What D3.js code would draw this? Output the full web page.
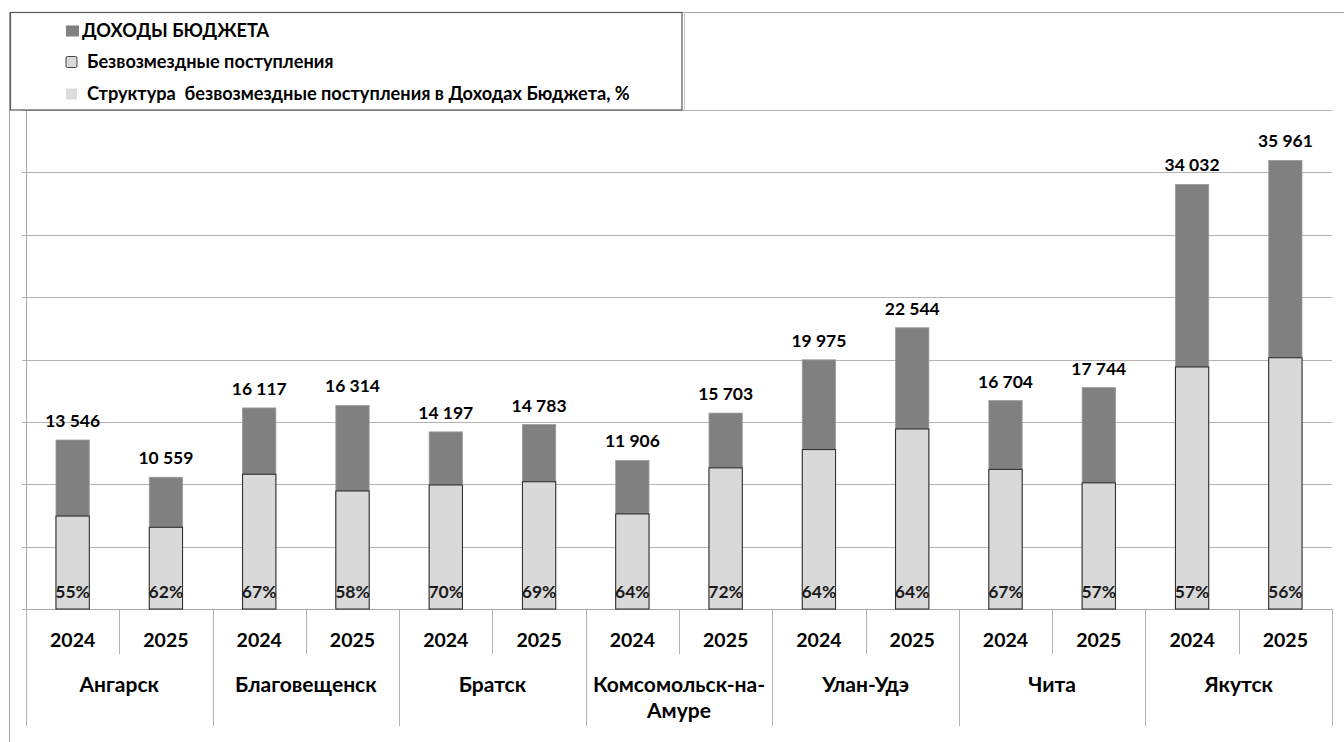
<!DOCTYPE html>
<html>
<head>
<meta charset="utf-8">
<script src="https://cdn.jsdelivr.net/npm/d3@7"></script>
<style>
  html, body { margin: 0; padding: 0; background: #fff; }
  svg { display: block; font-family: "Lato", "Open Sans", sans-serif; font-weight: bold; }
  text { white-space: pre; }
</style>
</head>
<body>
<svg id="chart" width="1344" height="742"></svg>
<script>
// ---- data ----
const cities = ["Ангарск", "Благовещенск", "Братск", "Комсомольск-на-Амуре", "Улан-Удэ", "Чита", "Якутск"];
const cityLines = [["Ангарск"], ["Благовещенск"], ["Братск"], ["Комсомольск-на-", "Амуре"], ["Улан-Удэ"], ["Чита"], ["Якутск"]];
const years = ["2024", "2025"];
const budgetIncome = [13546, 10559, 16117, 16314, 14197, 14783, 11906, 15703, 19975, 22544, 16704, 17744, 34032, 35961];
const grants = [7450, 6550, 10800, 9460, 9940, 10200, 7620, 11310, 12780, 14430, 11190, 10110, 19400, 20140];
const sharePct = [55, 62, 67, 58, 70, 69, 64, 72, 64, 64, 67, 57, 57, 56];
const legendLabels = ["ДОХОДЫ БЮДЖЕТА", "Безвозмездные поступления", "Структура  безвозмездные поступления в Доходах Бюджета, %"];
const yTicks = [0, 5000, 10000, 15000, 20000, 25000, 30000, 35000, 40000];

(function () {
const rows = [];
cities.forEach((c, ci) => years.forEach((yr, yi) => {
  const i = ci * 2 + yi;
  rows.push({ key: c + "|" + yr, city: c, year: yr, total: budgetIncome[i], grant: grants[i], pct: sharePct[i] });
}));

const svg = d3.select("#chart");
const pLeft = 26, pRight = 1332, pTop = 110, pBase = 609;

const x = d3.scaleBand().domain(rows.map(d => d.key)).range([pLeft, pRight]).padding(0);
const y = d3.scaleLinear().domain([0, 40000]).range([pBase, pTop]);
const bw = x.bandwidth() * 0.357;

const fmt = d3.formatLocale({ decimal: ",", thousands: " ", grouping: [3], currency: ["", ""] }).format(",d");

// font size fitting helper: size so that sample text has the target width
function fit(sample, target, base) {
  const t = svg.append("text").attr("font-size", base).text(sample);
  const w = t.node().getComputedTextLength();
  t.remove();
  return w > 0 ? base * target / w : base;
}
const fsYear = fit("2024", 45.3, 20);
const fsVal = fit("13 546", 55, 18);
const fsPct = fit("55%", 34.7, 18);
const fsCity = fit("Благовещенск", 141.7, 19);
const fsLeg = fit(legendLabels[2], 543, 17);

// outer chart border (clipped at page edges)
svg.append("line").attr("x1", 9.5).attr("x2", 9.5).attr("y1", 12).attr("y2", 742).attr("stroke", "#a6a6a6");
svg.append("line").attr("x1", 9).attr("x2", 1344).attr("y1", 12.5).attr("y2", 12.5).attr("stroke", "#a6a6a6");

// gridlines
svg.append("g").selectAll("line").data(yTicks).join("line")
  .attr("x1", pLeft - 4).attr("x2", pRight)
  .attr("y1", d => Math.round(y(d)) + 0.5).attr("y2", d => Math.round(y(d)) + 0.5)
  .attr("stroke", d => d === 0 ? "#a6a6a6" : "#b3b3b3");

// y axis line
svg.append("line").attr("x1", pLeft + 0.5).attr("x2", pLeft + 0.5).attr("y1", pTop).attr("y2", pBase)
  .attr("stroke", "#a6a6a6");

// category separators
svg.append("g").selectAll("line").data(d3.range(rows.length + 1)).join("line")
  .attr("x1", i => Math.round(pLeft + i * x.step()) + 0.5)
  .attr("x2", i => Math.round(pLeft + i * x.step()) + 0.5)
  .attr("y1", pBase)
  .attr("y2", i => (i % 2 === 0) ? 726 : 654)
  .attr("stroke", "#b3b3b3");

// bars: total (dark)
svg.append("g").selectAll("rect").data(rows).join("rect")
  .attr("x", d => x(d.key) + (x.bandwidth() - bw) / 2)
  .attr("width", bw)
  .attr("y", d => y(d.total))
  .attr("height", d => y(0) - y(d.total))
  .attr("fill", "#808080")
  .attr("stroke", "#9a9a9a").attr("stroke-width", 0.8);

// bars: grants (light, overlapping)
svg.append("g").selectAll("rect").data(rows).join("rect")
  .attr("x", d => x(d.key) + (x.bandwidth() - bw) / 2)
  .attr("width", bw)
  .attr("y", d => y(d.grant))
  .attr("height", d => y(0) - y(d.grant))
  .attr("fill", "#d9d9d9")
  .attr("stroke", "#262626").attr("stroke-width", 1);

// value labels
svg.append("g").selectAll("text").data(rows).join("text")
  .attr("x", d => x(d.key) + x.bandwidth() / 2)
  .attr("y", d => y(d.total) - 13)
  .attr("text-anchor", "middle")
  .attr("font-size", fsVal).attr("fill", "#000")
  .text(d => fmt(d.total));

// percent labels
svg.append("g").selectAll("text").data(rows).join("text")
  .attr("x", d => x(d.key) + x.bandwidth() / 2)
  .attr("y", 597.5)
  .attr("text-anchor", "middle")
  .attr("font-size", fsPct).attr("fill", "#1a1a1a")
  .text(d => d.pct + "%");

// year labels
svg.append("g").selectAll("text").data(rows).join("text")
  .attr("x", d => x(d.key) + x.bandwidth() / 2)
  .attr("y", 647)
  .attr("text-anchor", "middle")
  .attr("font-size", fsYear).attr("fill", "#000")
  .text(d => d.year);

// city labels
const cg = svg.append("g").selectAll("text").data(cities).join("text")
  .attr("x", (c, ci) => pLeft + (ci * 2 + 1) * x.step())
  .attr("y", 692)
  .attr("text-anchor", "middle")
  .attr("font-size", fsCity).attr("fill", "#000");
cg.selectAll("tspan").data((c, ci) => cityLines[ci]).join("tspan")
  .attr("x", function () { return this.parentNode.getAttribute("x"); })
  .attr("dy", (d, i) => i === 0 ? 0 : 26)
  .text(d => d);

// legend
const lg = svg.append("g");
lg.append("rect").attr("x", 10.5).attr("y", 12.5).attr("width", 671.5).attr("height", 97.5)
  .attr("fill", "#fff").attr("stroke", "#595959").attr("stroke-width", 1.2);
lg.append("line").attr("x1", 684.5).attr("x2", 684.5).attr("y1", 12).attr("y2", 110).attr("stroke", "#c8c8c8");
const legendMarks = [
  { fill: "#808080", stroke: "none" },
  { fill: "#d9d9d9", stroke: "#404040" },
  { fill: "#dcdcdc", stroke: "none" }
];
const legendY = [31, 62, 94];
const legendTextX = [82, 87, 87];
legendLabels.forEach((t, i) => {
  lg.append("rect").attr("x", 66).attr("y", legendY[i] - 5.5).attr("width", i === 0 ? 13 : 11).attr("height", 11)
    .attr("rx", legendMarks[i].stroke === "none" ? 0 : 1.5)
    .attr("fill", legendMarks[i].fill).attr("stroke", legendMarks[i].stroke).attr("stroke-width", 1);
  lg.append("text").attr("x", legendTextX[i]).attr("y", legendY[i] + 6)
    .attr("font-size", fsLeg).attr("fill", "#000").text(t);
});
})();
</script>
</body>
</html>
